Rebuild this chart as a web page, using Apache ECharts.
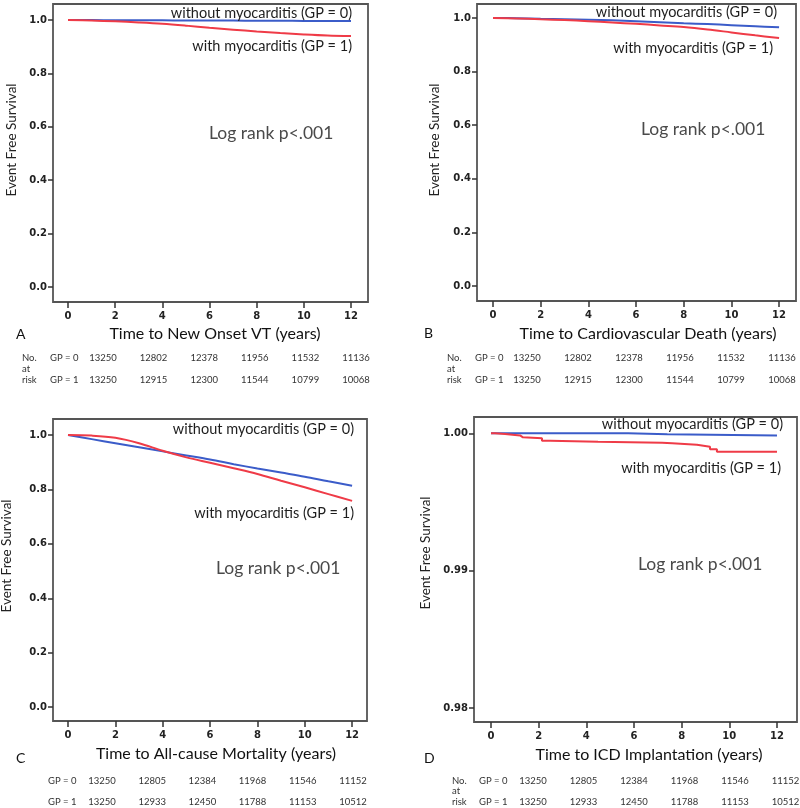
<!DOCTYPE html>
<html>
<head>
<meta charset="utf-8">
<script src="https://cdn.jsdelivr.net/npm/echarts@6/dist/echarts.min.js"></script>
<style>html,body{margin:0;padding:0;background:#fff}#c{width:800px;height:808px}</style>
</head>
<body>
<div id="c"></div>
<script>
// ---------- data ----------
const years = [0,1,2,3,4,5,6,7,8,9,10,11,12];
const xTicks = [0,2,4,6,8,10,12];
const yTicks = [0.0,0.2,0.4,0.6,0.8,1.0];
const yTicksD = [0.98,0.99,1.00];

const A_gp0 = [1.0,0.9997,0.9993,0.9990,0.9987,0.9984,0.9981,0.9978,0.9974,0.9971,0.9967,0.9963,0.9960];
const A_gp1 = [1.0,0.998,0.995,0.991,0.986,0.979,0.971,0.964,0.957,0.951,0.946,0.942,0.940];
const B_gp0 = [1.0,0.999,0.997,0.995,0.993,0.991,0.988,0.984,0.980,0.977,0.973,0.969,0.965];
const B_gp1 = [1.0,0.998,0.995,0.992,0.988,0.983,0.978,0.972,0.966,0.957,0.946,0.935,0.925];
const C_gp0 = [1.0,0.985,0.970,0.955,0.940,0.925,0.910,0.893,0.877,0.862,0.847,0.830,0.814];
const C_gp1 = [1.0,0.998,0.990,0.970,0.942,0.918,0.898,0.878,0.857,0.832,0.808,0.783,0.758];
// panel D: step curves (time, survival)
const D_gp0_t = [0,5.75,7.4,12];
const D_gp0_s = [1.0,0.99993,0.99985,0.99985];
const D_gp1_t = [0,0.17,0.59,1.22,1.34,2.14,2.48,4.49,7.18,7.6,8.64,9.19,9.48,12];
const D_gp1_s = [1.0,0.99995,0.99985,0.99971,0.99964,0.99946,0.99939,0.99932,0.99928,0.99917,0.99903,0.99884,0.99866,0.99866];

const riskAB_gp0 = [13250,12802,12378,11956,11532,11136];
const riskAB_gp1 = [13250,12915,12300,11544,10799,10068];
const riskCD_gp0 = [13250,12805,12384,11968,11546,11152];
const riskCD_gp1 = [13250,12933,12450,11788,11153,10512];

const xTitles = ['Time to New Onset VT (years)','Time to Cardiovascular Death (years)','Time to All-cause Mortality (years)','Time to ICD Implantation (years)'];
const panelLetters = ['A','B','C','D'];
const label0 = 'without myocarditis (GP = 0)';
const label1 = 'with myocarditis (GP = 1)';
const logRank = 'Log rank p<.001';
const yTitle = 'Event Free Survival';

// ---------- layout ----------
const BLUE = '#3b5cc9', RED = '#ef3b47';
const grids = [
  {left:53, top:4, width:315, height:298, xmin:-0.636, xmax:12.72, ymin:-0.056, ymax:1.06},
  {left:477, top:4, width:319, height:297, xmin:-0.671, xmax:12.71, ymin:-0.056, ymax:1.052},
  {left:53, top:419, width:314, height:302, xmin:-0.634, xmax:12.63, ymin:-0.051, ymax:1.059},
  {left:474, top:417, width:323, height:305, xmin:-0.713, xmax:12.84, ymin:0.97898, ymax:1.00119}
];

const option = {
  animation:false,
  backgroundColor:'#fff',
  grid: grids.map(g=>({left:g.left, top:g.top, width:g.width, height:g.height, show:true, borderColor:'#555', borderWidth:1.8, backgroundColor:'transparent', containLabel:false})),
  xAxis: grids.map((g,i)=>({
    type:'value', gridIndex:i, min:g.xmin, max:g.xmax,
    axisLine:{show:false, onZero:false},
    axisTick:{show:true, customValues:xTicks, length:6, inside:false, lineStyle:{color:'#333', width:1.5}},
    axisLabel:{show:true, customValues:xTicks, margin:9, color:'#222', fontFamily:'DejaVu Sans', fontWeight:'bold', fontSize:10},
    splitLine:{show:false}
  })),
  yAxis: grids.map((g,i)=>({
    type:'value', gridIndex:i, min:g.ymin, max:g.ymax,
    axisLine:{show:false, onZero:false},
    axisTick:{show:true, customValues: i===3?yTicksD:yTicks, length:5, inside:false, lineStyle:{color:'#333', width:1.5}},
    axisLabel:{show:true, customValues: i===3?yTicksD:yTicks, margin:6, color:'#222', fontFamily:'DejaVu Sans', fontWeight:'bold', fontSize:10,
      formatter: v => i===3 ? v.toFixed(2) : v.toFixed(1)},
    splitLine:{show:false}
  })),
  series: []
};

function addLine(idx, xs, ys, color, step){
  option.series.push({
    type:'line', xAxisIndex:idx, yAxisIndex:idx,
    data: xs.map((x,k)=>[x, ys[k]]),
    showSymbol:false, symbol:'none', smooth: step ? false : 0.35,
    step: step ? 'end' : false,
    lineStyle:{color:color, width:2}, silent:true, z:3
  });
}
addLine(0, years, A_gp0, BLUE); addLine(0, years, A_gp1, RED);
addLine(1, years, B_gp0, BLUE); addLine(1, years, B_gp1, RED);
addLine(2, years, C_gp0, BLUE); addLine(2, years, C_gp1, RED);
addLine(3, D_gp0_t, D_gp0_s, BLUE, true); addLine(3, D_gp1_t, D_gp1_s, RED, true);

// ---------- texts ----------
const g = [];
function txt(t, x, y, size, opts){
  opts = opts || {};
  g.push({type:'text', x:x, y:y, rotation: opts.rot || 0, z:10, silent:true,
    style:{text:String(t), fill: opts.color || '#222', font: (opts.weight||'normal')+' '+size+'px '+(opts.family||'Lato'),
      align: opts.align || 'left', verticalAlign: opts.va || 'middle'}});
}
// curve labels
const lbl = [
  {w:[352,13], m:[352,46], l:[209,133]},
  {w:[777,12], m:[773,48], l:[641,129]},
  {w:[354,429], m:[354,513], l:[216,568]},
  {w:[783,424], m:[781,468], l:[638,564]}
];
lbl.forEach(p=>{
  txt(label0, p.w[0], p.w[1], 14.5, {align:'right', color:'#1e1e1e'});
  txt(label1, p.m[0], p.m[1], 14.5, {align:'right', color:'#1e1e1e'});
  txt(logRank, p.l[0], p.l[1], 17.5, {color:'#4a4a4a'});
});
// y titles
[[12,140],[435,140],[7,556],[426,553]].forEach(p=>txt(yTitle, p[0], p[1], 13.5, {rot:Math.PI/2, align:'center', color:'#222'}));
// x titles
[[215,334],[648,334],[216,754],[649,755]].forEach((p,i)=>txt(xTitles[i], p[0], p[1], 16, {align:'center', color:'#111'}));
// panel letters
[[16,334],[424,333],[16,758],[424,758]].forEach((p,i)=>txt(panelLetters[i], p[0], p[1], 14, {color:'#111'}));
// risk tables
const rt = [
  {no:[22,358], gp:[50], r0:358, r1:380, c0:103, step:50.6, d0:riskAB_gp0, d1:riskAB_gp1},
  {no:[447,358], gp:[475], r0:358, r1:380, c0:527, step:51, d0:riskAB_gp0, d1:riskAB_gp1},
  {no:null, gp:[48], r0:781, r1:802, c0:102, step:50.2, d0:riskCD_gp0, d1:riskCD_gp1},
  {no:[452,781], gp:[479], r0:781, r1:802, c0:533, step:50.5, d0:riskCD_gp0, d1:riskCD_gp1}
];
rt.forEach(r=>{
  const fs = 9.5, col = '#333';
  if(r.no){
    txt('No.', r.no[0], r.r0, fs, {color:col});
    txt('at', r.no[0], (r.r0+r.r1)/2-0.5, fs, {color:col});
    txt('risk', r.no[0], r.r1, fs, {color:col});
  }
  txt('GP = 0', r.gp[0], r.r0, fs, {color:col});
  txt('GP = 1', r.gp[0], r.r1, fs, {color:col});
  r.d0.forEach((v,k)=>txt(v, r.c0 + k*r.step, r.r0, fs, {align:'center', color:col}));
  r.d1.forEach((v,k)=>txt(v, r.c0 + k*r.step, r.r1, fs, {align:'center', color:col}));
});
option.graphic = g;

const chart = echarts.init(document.getElementById('c'), null, {renderer:'canvas'});
chart.setOption(option);
</script>
</body>
</html>
